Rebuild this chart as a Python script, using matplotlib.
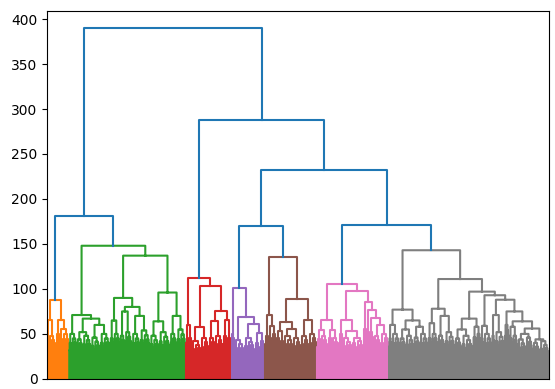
import numpy as np
import matplotlib
matplotlib.use("Agg")
import matplotlib.pyplot as plt

# merge tree: [height, left, right]
# a tuple (leaf_count, height) is a dense bundle of leaves near the bottom
orange = [88, [65, (4, 38), (14, 48)], [66, (8, 50), (18, 55)]]
green = [148,
         [71, (16, 50),
          [67, [52, (12, 44), (16, 48)], [60, (18, 46), (20, 50)]]],
         [137,
          [90, [65, (8, 45), (12, 50)],
           [80, [75, (10, 48), (14, 52)], [70, (16, 50), (20, 54)]]],
          [96, [64, (18, 48), (22, 52)], [70, (14, 50), (18, 55)]]]]
red = [112, [60, (4, 40), (8, 45)],
       [103, [58, (18, 42), (16, 45)],
        [76, [64, (12, 45), (16, 48)], [66, (8, 48), (10, 45)]]]]
purple = [101, (4, 50), [69, (20, 43), [61, (22, 46), [51, (10, 40), (10, 42)]]]]
brown = [136, [71, (8, 48), [59, (6, 45), (8, 50)]],
         [89, [63, [53, (8, 45), (8, 42)], [55, (18, 48), (16, 46)]],
          [65, (16, 48), (16, 50)]]]
pink = [106,
        [65, [54, (8, 44), (14, 48)], [54, (8, 46), (14, 45)]],
        [98,
         [66, (8, 50), [53, (18, 46), [45, (10, 40), (14, 42)]]],
         [86, (6, 55), [77, (4, 50), [68, (10, 52), [60, (14, 48), (16, 50)]]]]]]
gray = [143,
        [77, [60, (6, 45), (16, 50)],
         [65, [55, (12, 45), (16, 48)], [58, (12, 46), (16, 50)]]],
        [111,
         [78, [62, (8, 45), (12, 50)], [70, (14, 48), (20, 52)]],
         [97,
          [67, [55, (14, 45), (22, 48)], [58, (8, 46), (8, 50)]],
          [93, [59, (6, 45), (16, 50)],
           [88, [71, (6, 48), (20, 52)],
            [75, (8, 60),
             [64, [58, (8, 45), (10, 48)],
              [56, [50, (16, 44), (14, 46)], [44, (14, 40), (18, 42)]]]]]]]]]

clusters = [orange, green, red, purple, brown, pink, gray]
cluster_colors = ["C1", "C2", "C3", "C4", "C5", "C6", "C7"]
top_heights = [390, 181, 288, 232, 170, 171]

segs = {}
leaf_pos = [5.0]


def add(col, xl, hl, h, xr, hr):
    segs.setdefault(col, []).append(([xl, xl, xr, xr, np.nan], [hl, h, h, hr, np.nan]))


def bundle(n, h, col):
    if n == 1:
        x = leaf_pos[0]
        leaf_pos[0] += 10
        return x, 0.0
    a = max(1, (n * 2) // 5)
    xl, hl = bundle(a, h * 0.8, col)
    xr, hr = bundle(n - a, h * 0.9, col)
    add(col, xl, hl, h, xr, hr)
    return (xl + xr) / 2, h


def walk(node, col):
    if isinstance(node, tuple):
        return bundle(node[0], node[1], col)
    h, left, right = node
    xl, hl = walk(left, col)
    xr, hr = walk(right, col)
    add(col, xl, hl, h, xr, hr)
    return (xl + xr) / 2, h


pos = [walk(c, col) for c, col in zip(clusters, cluster_colors)]
n_leaves = int((leaf_pos[0] - 5) / 10)

fig = plt.figure(figsize=(5.55, 3.89), dpi=100)
ax = fig.add_axes([0.085, 0.026, 0.904, 0.947])

# links above the colour threshold
x181 = (pos[0][0] + pos[1][0]) / 2
add("C0", pos[0][0], pos[0][1], top_heights[1], pos[1][0], pos[1][1])
x170 = (pos[3][0] + pos[4][0]) / 2
add("C0", pos[3][0], pos[3][1], top_heights[4], pos[4][0], pos[4][1])
x171 = (pos[5][0] + pos[6][0]) / 2
add("C0", pos[5][0], pos[5][1], top_heights[5], pos[6][0], pos[6][1])
x232 = (x170 + x171) / 2
add("C0", x170, top_heights[4], top_heights[3], x171, top_heights[5])
x288 = (pos[2][0] + x232) / 2
add("C0", pos[2][0], pos[2][1], top_heights[2], x232, top_heights[3])
add("C0", x181, top_heights[1], top_heights[0], x288, top_heights[2])

for col, items in segs.items():
    xs = np.concatenate([np.array(s[0]) for s in items])
    ys = np.concatenate([np.array(s[1]) for s in items])
    ax.plot(xs, ys, color=col, lw=1.5)

ax.set_xlim(0, n_leaves * 10)
ax.set_ylim(0, top_heights[0] * 1.05)
ax.set_xticks([])
ax.set_yticks(np.arange(0, 401, 50))

fig.savefig("out.png", dpi=100)
